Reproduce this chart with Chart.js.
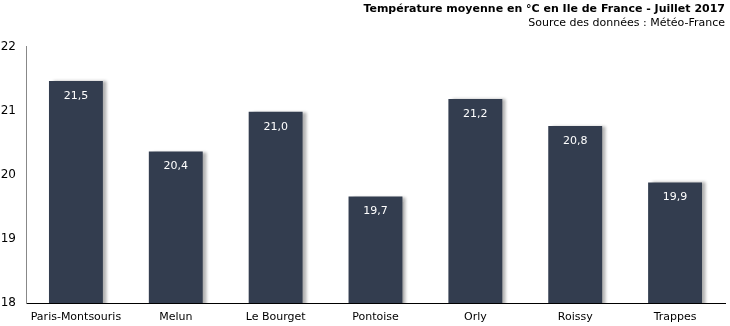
<!DOCTYPE html>
<html>
<head>
<meta charset="utf-8">
<script src="https://cdn.jsdelivr.net/npm/chart.js@4/dist/chart.umd.min.js"></script>
<style>
  html, body { margin: 0; padding: 0; background: #fff; }
  #wrap { width: 730px; height: 326px; }
</style>
</head>
<body>
<div id="wrap"><canvas id="chart" width="730" height="326"></canvas></div>
<script>
const stations = ["Paris-Montsouris", "Melun", "Le Bourget", "Pontoise", "Orly", "Roissy", "Trappes"];
const temperatures = [21.46, 20.36, 20.98, 19.66, 21.18, 20.76, 19.88];
const yTicks = [18, 19, 20, 21, 22];

const barColor = "#333d4f";
const font = "Verdana, 'DejaVu Sans', sans-serif";

// ombre portée à droite des barres
const shadowPlugin = {
    id: "barShadow",
    beforeDatasetsDraw(chart) {
        const ctx = chart.ctx;
        ctx.save();
        ctx.shadowColor = "rgba(0,0,0,0.3)";
        ctx.shadowBlur = 3;
        ctx.shadowOffsetX = 4;
        ctx.shadowOffsetY = 0;
    },
    afterDatasetsDraw(chart) {
        chart.ctx.restore();
    }
};

// valeurs écrites dans le haut des barres
const valueLabels = {
    id: "valueLabels",
    afterDraw(chart) {
        const ctx = chart.ctx;
        const meta = chart.getDatasetMeta(0);
        ctx.save();
        ctx.fillStyle = "#ffffff";
        ctx.font = "11px " + font;
        ctx.textAlign = "center";
        ctx.textBaseline = "middle";
        meta.data.forEach((bar, i) => {
            const txt = temperatures[i].toFixed(1).replace(".", ",");
            ctx.fillText(txt, bar.x, bar.y + 15);
        });
        ctx.restore();
    }
};

new Chart(document.getElementById("chart"), {
    type: "bar",
    data: {
        labels: stations,
        datasets: [{
            data: temperatures,
            backgroundColor: barColor,
            barPercentage: 0.54,
            categoryPercentage: 1
        }]
    },
    options: {
        responsive: false,
        animation: false,
        layout: { padding: { left: 0, right: 5, top: 0, bottom: 0 } },
        plugins: {
            legend: { display: false },
            tooltip: { enabled: false },
            title: {
                display: true,
                text: "Température moyenne en °C en Ile de France - Juillet 2017",
                align: "end",
                color: "#000",
                font: { family: font, size: 11, weight: "bold" },
                padding: { top: 3, bottom: 0 }
            },
            subtitle: {
                display: true,
                text: "Source des données : Météo-France",
                align: "end",
                color: "#000",
                font: { family: font, size: 11 },
                padding: { top: 0, bottom: 17 }
            }
        },
        scales: {
            x: {
                grid: { display: false, drawTicks: false },
                border: { display: true, color: "#000", width: 1 },
                ticks: {
                    color: "#000",
                    font: { family: font, size: 11 },
                    padding: 8,
                    maxRotation: 0,
                    autoSkip: false
                },
                afterFit(scale) { scale.height = 23; }
            },
            y: {
                min: yTicks[0],
                max: yTicks[yTicks.length - 1],
                grid: { display: false, drawTicks: false },
                border: { display: true, color: "#888", width: 1 },
                afterBuildTicks(scale) { scale.ticks = yTicks.map(v => ({ value: v })); },
                ticks: {
                    color: "#000",
                    font: { family: font, size: 12 },
                    padding: 10
                },
                afterFit(scale) { scale.width = 26; }
            }
        }
    },
    plugins: [shadowPlugin, valueLabels]
});
</script>
</body>
</html>
